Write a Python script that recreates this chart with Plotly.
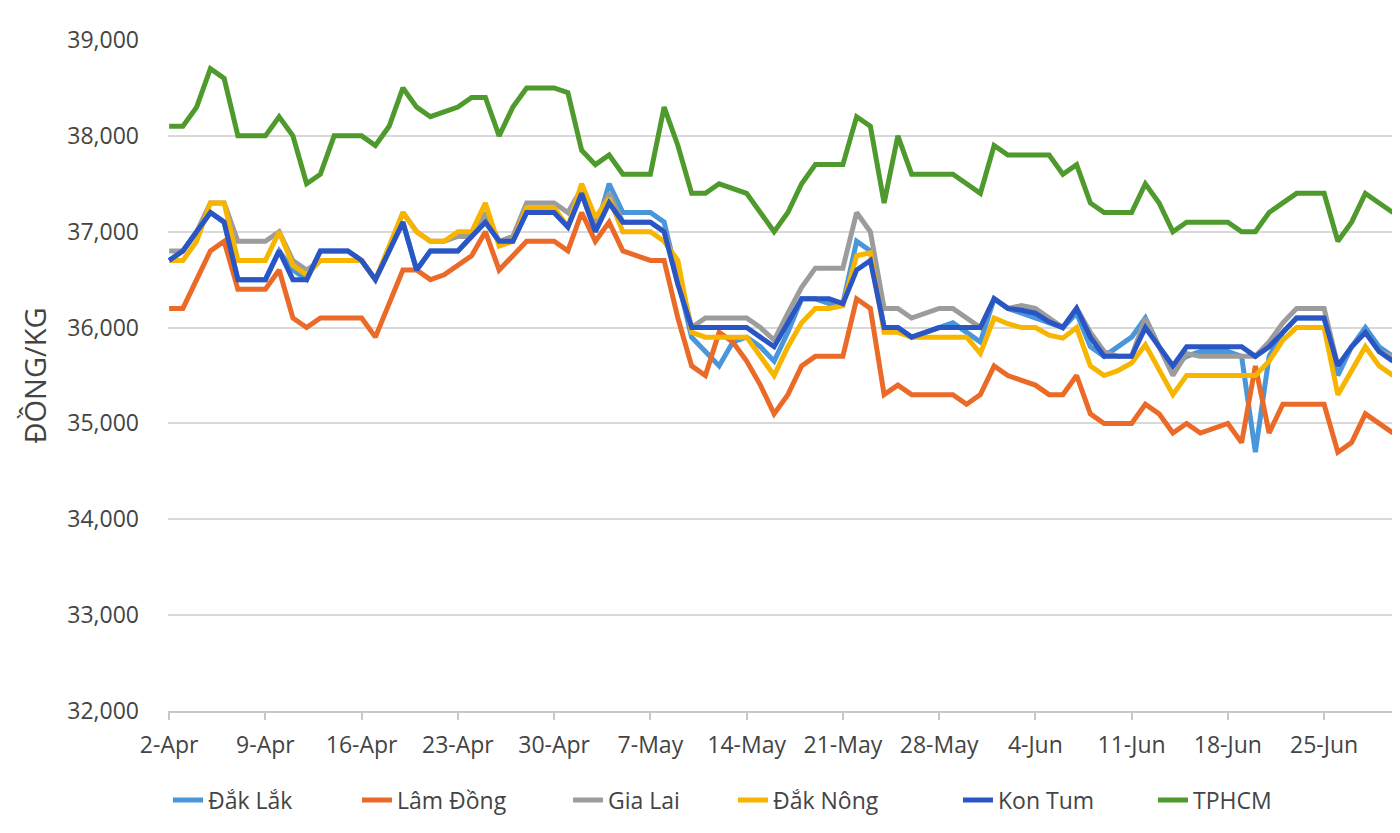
import pandas as pd
import plotly.graph_objects as go

# 2-Apr .. 30-Jun (daily)
dates = pd.date_range("2018-04-02", periods=90, freq="D")

dak_lak = [36700,36800,37000,37200,37100,36500,36500,36500,36800,36600,36500,36800,36800,36800,36700,36500,36800,37100,36600,36800,36800,36800,
           36950,37100,36900,36900,37200,37200,37200,37050,37400,37000,37500,37200,37200,37200,37100,
           36500,35900,35750,35600,35850,35900,35800,35650,35950,36300,36300,36250,36250,36900,36800,36000,36000,35900,35950,36000,36050,35950,35850,
           36300,36200,36150,36100,36050,36000,36150,35800,35700,35800,35900,36100,35800,35600,35700,35750,35750,35750,35700,34700,35700,35950,36100,36100,36100,35500,35800,36000,35800,35700]

lam_dong = [36200,36200,36500,36800,36900,36400,36400,36400,36600,36100,36000,36100,36100,36100,36100,35900,36250,36600,36600,36500,36550,36650,
            36750,37000,36600,36750,36900,36900,36900,36800,37200,36900,37100,36800,36750,36700,36700,
            36100,35600,35500,35950,35850,35650,35400,35100,35300,35600,35700,35700,35700,36300,36200,35300,35400,35300,35300,35300,35300,35200,35300,
            35600,35500,35450,35400,35300,35300,35500,35100,35000,35000,35000,35200,35100,34900,35000,34900,34950,35000,34800,35600,34900,35200,35200,35200,35200,34700,34800,35100,35000,34900]

gia_lai = [36800,36800,37000,37300,37300,36900,36900,36900,37000,36700,36600,36700,36700,36700,36700,36500,36800,37200,37000,36900,36900,36950,
           36950,37200,36900,36950,37300,37300,37300,37200,37450,37100,37400,37100,37100,37100,37000,
           36600,36000,36100,36100,36100,36100,36000,35870,36150,36420,36620,36620,36620,37200,37000,36200,36200,36100,36150,36200,36200,36100,36000,
           36300,36200,36230,36200,36100,36000,36200,35950,35750,35700,35700,36100,35800,35500,35730,35700,35700,35700,35700,35700,35850,36050,36200,36200,36200,35600,35800,35950,35750,35700]

dak_nong = [36700,36700,36900,37300,37300,36700,36700,36700,37000,36650,36550,36700,36700,36700,36700,36500,36850,37200,37000,36900,36900,37000,
            37000,37300,36850,36900,37250,37250,37250,37050,37500,37150,37350,37000,37000,37000,36900,
            36700,35950,35900,35900,35900,35900,35700,35500,35800,36050,36200,36200,36230,36750,36780,35950,35950,35900,35900,35900,35900,35900,35730,
            36100,36040,36000,36000,35920,35890,36000,35600,35500,35550,35630,35820,35550,35300,35500,35500,35500,35500,35500,35500,35650,35870,36000,36000,36000,35300,35550,35800,35600,35500]

kon_tum = [36700,36800,37000,37200,37100,36500,36500,36500,36800,36500,36500,36800,36800,36800,36700,36500,36800,37100,36600,36800,36800,36800,
           36950,37100,36900,36900,37200,37200,37200,37050,37400,37000,37300,37100,37100,37100,37000,
           36450,36000,36000,36000,36000,36000,35900,35800,36050,36300,36300,36300,36250,36600,36700,36000,36000,35900,35950,36000,36000,36000,36000,
           36300,36200,36180,36150,36060,36000,36200,35900,35700,35700,35700,36000,35800,35600,35800,35800,35800,35800,35800,35700,35800,35950,36100,36100,36100,35600,35800,35950,35750,35650]

tphcm = [38100,38100,38300,38700,38600,38000,38000,38000,38200,38000,37500,37600,38000,38000,38000,37900,38100,38500,38300,38200,38250,38300,
         38400,38400,38000,38300,38500,38500,38500,38450,37850,37700,37800,37600,37600,37600,38300,
         37900,37400,37400,37500,37450,37400,37200,37000,37200,37500,37700,37700,37700,38200,38100,37300,38000,37600,37600,37600,37600,37500,37400,
         37900,37800,37800,37800,37800,37600,37700,37300,37200,37200,37200,37500,37300,37000,37100,37100,37100,37100,37000,37000,37200,37300,37400,37400,37400,36900,37100,37400,37300,37200]

series = [
    ("Đắk Lắk", dak_lak, "#4A96DA"),
    ("Lâm Đồng", lam_dong, "#EB6A28"),
    ("Gia Lai", gia_lai, "#9C9C9C"),
    ("Đắk Nông", dak_nong, "#F7B500"),
    ("Kon Tum", kon_tum, "#2A55C4"),
    ("TPHCM", tphcm, "#4F9A2D"),
]

# legend entry positions (paper x, left edge of each entry)
legend_x = [0.0, 0.1534, 0.3247, 0.4586, 0.6412, 0.7995]

FONT = "Open Sans"
TXT = "#444444"

fig = go.Figure()
layout_legends = {}
for i, ((name, vals, col), lx) in enumerate(zip(series, legend_x)):
    key = "legend" if i == 0 else f"legend{i+1}"
    fig.add_trace(go.Scatter(x=dates, y=vals, name=name, mode="lines",
                             line=dict(color=col, width=5), legend=key))
    layout_legends[key] = dict(orientation="h", x=lx, xanchor="left", y=-0.1326, yanchor="middle",
                               font=dict(size=23, color=TXT, family=FONT),
                               bgcolor="rgba(0,0,0,0)", borderwidth=0)

start = pd.Timestamp("2018-04-02")
fig.update_layout(
    width=1392, height=825,
    margin=dict(l=160, r=0, t=32, b=122, autoexpand=False),
    paper_bgcolor="white", plot_bgcolor="white",
    font=dict(family=FONT, color=TXT, size=22),
    showlegend=True,
    **layout_legends,
)
fig.update_xaxes(
    type="date",
    range=[start - pd.Timedelta(hours=2), start + pd.Timedelta(days=89.52)],
    tick0=start, dtick=7 * 86400000, tickformat="%-d-%b",
    showgrid=False, showline=True, linecolor="#C8C8C8", linewidth=1.5,
    ticks="outside", ticklen=7, tickcolor="#C8C8C8", tickwidth=1.5,
    tickfont=dict(size=23, color=TXT, family=FONT),
    ticklabelstandoff=6,
)
fig.update_yaxes(
    range=[32000, 39000], dtick=1000, tickformat=",",
    showgrid=True, gridcolor="#D9D9D9", gridwidth=2,
    zeroline=False, showline=False,
    tickfont=dict(size=23, color=TXT, family=FONT),
    ticklabelstandoff=28,
    title=dict(text="ĐỒNG/KG", font=dict(size=29, color=TXT, family=FONT), standoff=12),
)

fig.write_html("out.html")
